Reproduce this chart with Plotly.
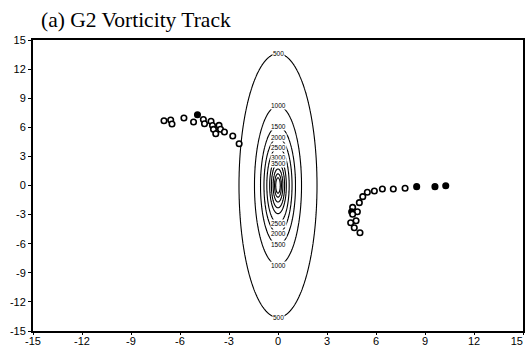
import numpy as np
import plotly.graph_objects as go

# ---- data ----
track_left_x = [-6.98, -6.57, -6.49, -5.76, -5.17, -4.93, -4.57, -4.50, -4.10, -4.01,
                -3.95, -3.81, -3.61, -3.52, -3.28, -2.77, -2.38]
track_left_y = [6.68, 6.75, 6.34, 6.96, 6.55, 7.29, 6.80, 6.37, 6.63, 6.19,
                5.79, 5.34, 6.20, 5.80, 5.52, 5.10, 4.31]
track_left_filled = [0, 0, 0, 0, 0, 1, 0, 0, 0, 0, 0, 0, 0, 0, 0, 0, 0]

track_right_x = [10.27, 9.61, 8.49, 7.78, 7.06, 6.39, 5.90, 5.47, 5.19, 4.98,
                 4.57, 4.86, 4.51, 4.57, 4.78, 4.45, 4.67, 5.02]
track_right_y = [-0.02, -0.12, -0.12, -0.29, -0.36, -0.36, -0.57, -0.70, -1.15, -1.77,
                 -2.25, -2.70, -2.70, -2.97, -3.63, -3.84, -4.35, -4.87]
track_right_filled = [1, 1, 1, 0, 0, 0, 0, 0, 0, 0, 0, 0, 1, 0, 0, 0, 0, 0]

contour_levels = [5000, 4500, 4000, 3500, 3000, 2500, 2000, 1500, 1000, 500]
contour_half_height = [0.8, 1.2, 1.7, 2.3, 2.9, 3.9, 4.9, 6.1, 8.2, 13.6]  # y semi-axis
contour_aspect = 5.7  # y semi-axis / x semi-axis
label_top_levels = [500, 1000, 1500, 2000, 2500, 3000, 3500]
label_bottom_levels = [500, 1000, 1500, 2000, 2500]

x_ticks = [-15, -12, -9, -6, -3, 0, 3, 6, 9, 12, 15]
y_ticks = [-15, -12, -9, -6, -3, 0, 3, 6, 9, 12, 15]

# ---- field built from the read contour radii ----
gx = np.linspace(-4, 4, 801)
gy = np.linspace(-15, 15, 901)
X, Y = np.meshgrid(gx, gy)
R = np.sqrt((X * contour_aspect) ** 2 + Y ** 2)
rad = [0.0] + contour_half_height + [30.0]
val = [5500] + contour_levels + [0]
Z = np.interp(R, rad, val)

fig = go.Figure()
fig.add_trace(go.Contour(
    x=gx, y=gy, z=Z,
    contours=dict(start=500, end=5000, size=500, coloring="none", showlabels=False),
    line=dict(color="black", width=1.1),
    showscale=False, hoverinfo="skip",
))

def add_track(xs, ys, filled):
    fig.add_trace(go.Scatter(
        x=xs, y=ys, mode="markers",
        marker=dict(size=5.5, symbol="circle",
                    color=["black" if f else "white" for f in filled],
                    line=dict(color="black", width=1.6)),
        showlegend=False,
    ))

add_track(track_left_x, track_left_y, track_left_filled)
add_track(track_right_x, track_right_y, track_right_filled)

lv2h = dict(zip(contour_levels, contour_half_height))
for lv in label_top_levels:
    fig.add_annotation(x=0, y=lv2h[lv], text=str(lv), showarrow=False,
                       font=dict(size=6.5, color="black", family="Liberation Sans"),
                       bgcolor="white", borderpad=0)
for lv in label_bottom_levels:
    fig.add_annotation(x=0, y=-lv2h[lv], text=str(lv), showarrow=False,
                       font=dict(size=6.5, color="black", family="Liberation Sans"),
                       bgcolor="white", borderpad=0)

fig.add_annotation(xref="paper", yref="paper", x=0.012, y=1.022, xanchor="left", yanchor="bottom",
                   text="(a) G2 Vorticity Track", showarrow=False,
                   font=dict(family="Liberation Serif", size=21.5, color="black"))

# last x label is drawn by an overlaid axis so it can sit left of its tick (inside the window)
x_ticktext = [str(t) for t in x_ticks[:-1]] + [""]

tickfont = dict(family="Liberation Sans", size=11, color="black")
axis_common = dict(showgrid=False, zeroline=False, showline=True, mirror=True,
                   linecolor="black", linewidth=2, ticks="outside",
                   tickcolor="black", automargin=False, ticklabeloverflow="allow",
                   tickfont=tickfont)
fig.update_xaxes(range=[-15, 15], tickvals=x_ticks, ticktext=x_ticktext,
                 ticklen=2, ticklabelstandoff=-3, **axis_common)
fig.update_yaxes(range=[-15, 15], tickvals=y_ticks, ticktext=[str(t) for t in y_ticks],
                 ticklen=3, **axis_common)

fig.update_layout(
    xaxis2=dict(overlaying="x", side="bottom", range=[-15, 15], tickvals=x_ticks[-1:],
                ticktext=[str(x_ticks[-1])], ticks="", showline=False, showgrid=False,
                zeroline=False, ticklabelposition="outside left", ticklabelstandoff=2,
                automargin=False, ticklabeloverflow="allow", tickfont=tickfont),
    width=527, height=347, margin=dict(l=33, r=4, t=40, b=16),
    plot_bgcolor="white", paper_bgcolor="white", showlegend=False)

# invisible carrier trace so the overlaid axis is drawn
fig.add_trace(go.Scatter(x=[x_ticks[-1]], y=[y_ticks[0]], xaxis="x2", mode="markers",
                         marker=dict(opacity=0), hoverinfo="skip", showlegend=False))

fig.write_html("out.html", config={"displayModeBar": False},
               post_script="document.body.style.margin='0';")
